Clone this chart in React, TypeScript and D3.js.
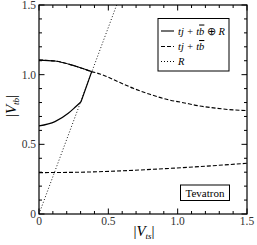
import React, { useEffect, useRef } from 'react';
import * as d3 from 'd3';

// |V_ts| , |V_tb| pairs
const upperDashed: [number, number][] = [
  [0, 1.105], [0.115, 1.098], [0.26, 1.062], [0.38, 1.022], [0.44, 1.005],
  [0.584, 0.943], [0.68, 0.902], [0.8, 0.859], [0.92, 0.823], [1.04, 0.799],
  [1.16, 0.775], [1.28, 0.759], [1.4, 0.747], [1.5, 0.742],
];
const lowerDashed: [number, number][] = [
  [0, 0.297], [0.3, 0.3], [0.6, 0.31], [0.9, 0.325], [1.2, 0.343], [1.5, 0.364],
];
const solidUpper: [number, number][] = [
  [0, 1.105], [0.115, 1.098], [0.26, 1.062], [0.38, 1.022],
];
const solidLower: [number, number][] = [
  [0, 0.632], [0.115, 0.663], [0.211, 0.723], [0.26, 0.766], [0.303, 0.806],
];
const solidKink: [number, number][] = [[0.303, 0.806], [0.38, 1.022]];
const rLine: [number, number][] = [[0, 0], [0.56, 1.5]];

const majorTicks = [0, 0.5, 1.0, 1.5];
const tickLabels = ['0', '0.5', '1.0', '1.5'];

const W = 257;
const H = 245;
const FONT = 'Liberation Serif';

const App: React.FC = () => {
  const ref = useRef<SVGSVGElement>(null);

  useEffect(() => {
    if (!ref.current) return;
    const svg = d3.select(ref.current);
    svg.selectAll('*').remove();

    const left = 39, right = 247, top = 5, bottom = 214;
    const x = d3.scaleLinear().domain([0, 1.5]).range([left, right]);
    const y = d3.scaleLinear().domain([0, 1.5]).range([bottom, top]);

    svg.append('defs').append('clipPath').attr('id', 'plotclip')
      .append('rect').attr('x', left).attr('y', top)
      .attr('width', right - left).attr('height', bottom - top);

    const g = svg.append('g').attr('clip-path', 'url(#plotclip)');
    const line = d3.line<[number, number]>().x((d) => x(d[0])).y((d) => y(d[1]));
    const smooth = d3.line<[number, number]>().x((d) => x(d[0])).y((d) => y(d[1])).curve(d3.curveMonotoneX);

    // R dotted line
    g.append('path').attr('d', line(rLine)!).attr('fill', 'none')
      .attr('stroke', '#000').attr('stroke-width', 0.9).attr('stroke-dasharray', '1,2');

    // dashed curves
    [upperDashed, lowerDashed].forEach((d) => {
      g.append('path').attr('d', smooth(d)!).attr('fill', 'none')
        .attr('stroke', '#000').attr('stroke-width', 1.1).attr('stroke-dasharray', '4,2');
    });

    // solid curves
    g.append('path').attr('d', smooth(solidUpper)!).attr('fill', 'none')
      .attr('stroke', '#000').attr('stroke-width', 1.2);
    g.append('path').attr('d', smooth(solidLower)!).attr('fill', 'none')
      .attr('stroke', '#000').attr('stroke-width', 1.2);
    g.append('path').attr('d', line(solidKink)!).attr('fill', 'none')
      .attr('stroke', '#000').attr('stroke-width', 1.2);

    // frame
    svg.append('rect').attr('x', left).attr('y', top)
      .attr('width', right - left).attr('height', bottom - top)
      .attr('fill', 'none').attr('stroke', '#000').attr('stroke-width', 1.2);

    // ticks on all sides, inward
    const minor = d3.range(0, 1.51, 0.1);
    const ticks = svg.append('g').attr('stroke', '#000').attr('stroke-width', 1);
    minor.forEach((v) => {
      const isMajor = majorTicks.some((m) => Math.abs(m - v) < 1e-6);
      const len = isMajor ? 5.5 : 3;
      ticks.append('line').attr('x1', x(v)).attr('x2', x(v)).attr('y1', bottom).attr('y2', bottom - len);
      ticks.append('line').attr('x1', x(v)).attr('x2', x(v)).attr('y1', top).attr('y2', top + len);
      ticks.append('line').attr('y1', y(v)).attr('y2', y(v)).attr('x1', left).attr('x2', left + len);
      ticks.append('line').attr('y1', y(v)).attr('y2', y(v)).attr('x1', right).attr('x2', right - len);
    });

    // tick labels
    majorTicks.forEach((v, i) => {
      svg.append('text').attr('x', x(v)).attr('y', 225)
        .attr('text-anchor', 'middle').attr('font-family', FONT).attr('font-size', 11.5)
        .attr('fill', '#333').text(tickLabels[i]);
      svg.append('text').attr('x', 36).attr('y', y(v) + 4)
        .attr('text-anchor', 'end').attr('font-family', FONT).attr('font-size', 11.5)
        .attr('fill', '#333').text(tickLabels[i]);
    });

    // axis labels
    const xl = svg.append('text').attr('x', 144).attr('y', 236)
      .attr('text-anchor', 'middle').attr('font-family', FONT).attr('font-size', 15);
    xl.append('tspan').text('|');
    xl.append('tspan').attr('font-style', 'italic').text('V');
    xl.append('tspan').attr('font-style', 'italic').attr('font-size', 9).attr('dy', 3).text('ts');
    xl.append('tspan').attr('dy', -3).text('|');

    const yl = svg.append('text').attr('transform', 'translate(16,106) rotate(-90)')
      .attr('text-anchor', 'middle').attr('font-family', FONT).attr('font-size', 15);
    yl.append('tspan').text('|');
    yl.append('tspan').attr('font-style', 'italic').text('V');
    yl.append('tspan').attr('font-style', 'italic').attr('font-size', 9).attr('dy', 3).text('tb');
    yl.append('tspan').attr('dy', -3).text('|');

    // legend
    svg.append('rect').attr('x', 158).attr('y', 18.5).attr('width', 71).attr('height', 52.5)
      .attr('fill', '#fff').attr('stroke', '#000').attr('stroke-width', 1);
    const rows = [
      { dash: null as string | null, y: 31 },
      { dash: '4,2', y: 46.5 },
      { dash: '1,2', y: 61.5 },
    ];
    rows.forEach((r) => {
      const l = svg.append('line').attr('x1', 161).attr('x2', 174).attr('y1', r.y).attr('y2', r.y)
        .attr('stroke', '#000').attr('stroke-width', 1.1);
      if (r.dash) l.attr('stroke-dasharray', r.dash);
    });
    const lt = (yy: number) => svg.append('text').attr('x', 178).attr('y', yy + 3.5)
      .attr('font-family', FONT).attr('font-size', 10.5).attr('font-style', 'italic');
    const t1 = lt(31);
    t1.append('tspan').text('tj + t');
    t1.append('tspan').attr('text-decoration', 'overline').text('b');
    t1.append('tspan').attr('font-style', 'normal').text(' \u2295 ');
    t1.append('tspan').text('R');
    const t2 = lt(46.5);
    t2.append('tspan').text('tj + t');
    t2.append('tspan').attr('text-decoration', 'overline').text('b');
    lt(61.5).text('R');

    // Tevatron box
    svg.append('rect').attr('x', 180.5).attr('y', 185).attr('width', 49).attr('height', 15.5)
      .attr('fill', '#fff').attr('stroke', '#000').attr('stroke-width', 1);
    svg.append('text').attr('x', 205).attr('y', 196.5).attr('text-anchor', 'middle')
      .attr('font-family', FONT).attr('font-size', 11).text('Tevatron');
  }, []);

  return (
    <svg ref={ref} width={W} height={H}
      style={{ position: 'fixed', left: 0, top: 0, background: '#fff' }} />
  );
};

export default App;
